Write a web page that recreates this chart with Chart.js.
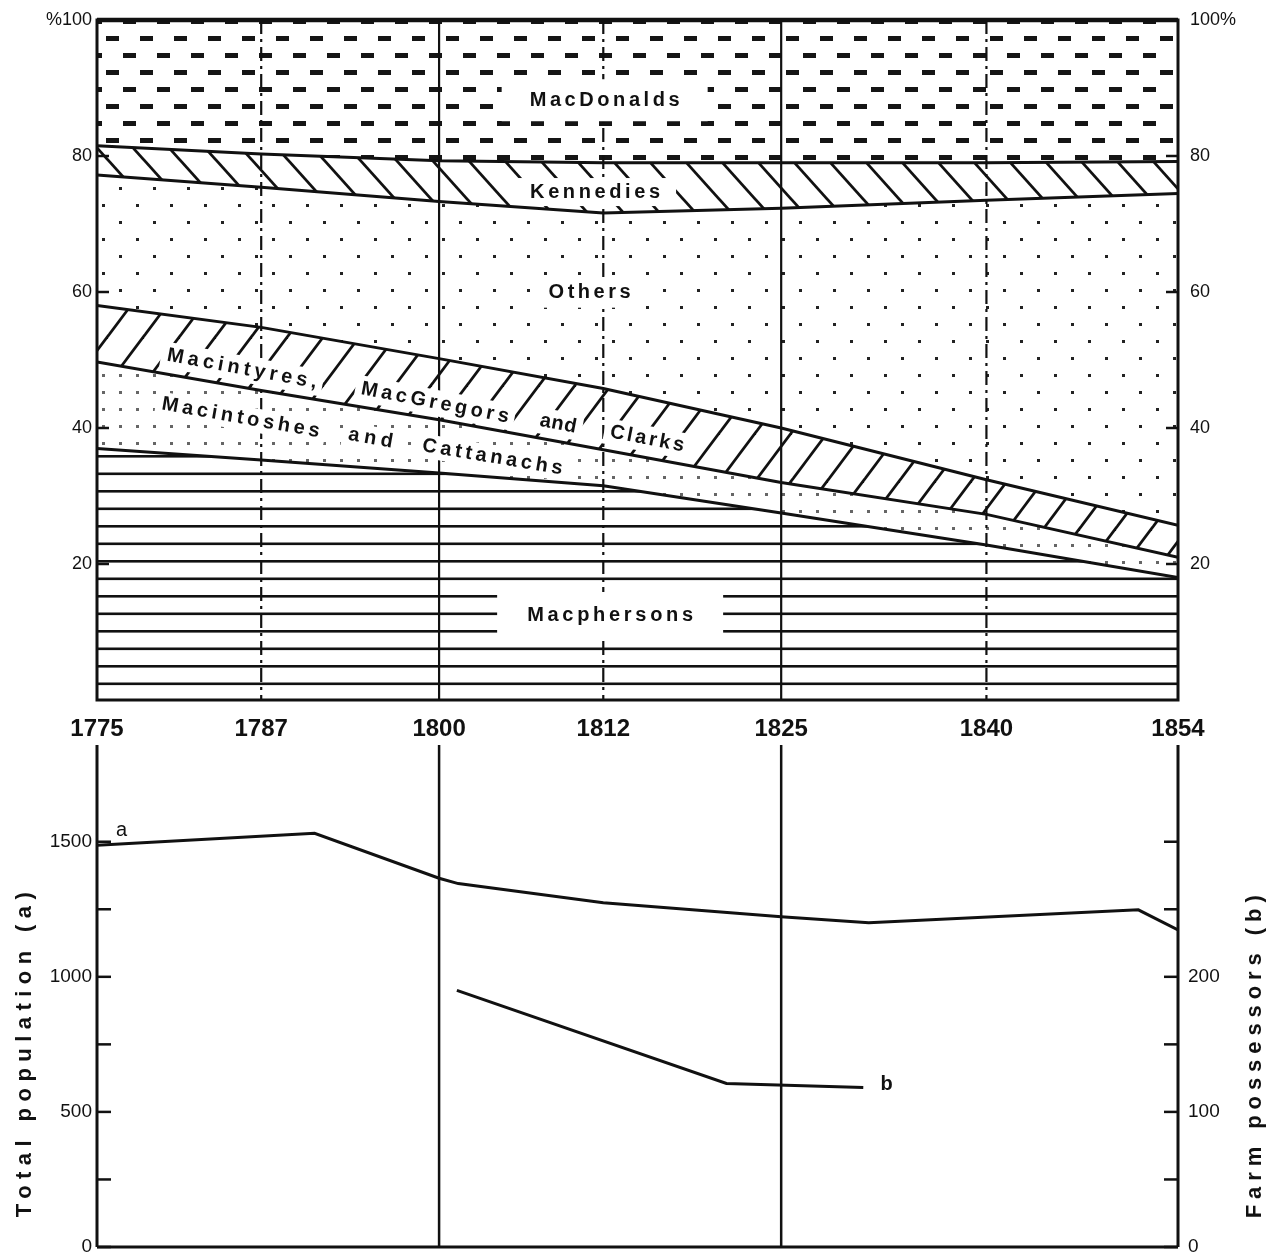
<!DOCTYPE html>
<html><head><meta charset="utf-8">
<script src="https://cdn.jsdelivr.net/npm/chart.js@4.4.1/dist/chart.umd.min.js"></script>
<style>
html,body{margin:0;padding:0;background:#fff;}
#wrap{position:relative;width:1287px;height:1254px;overflow:hidden;background:#fff;}
canvas{position:absolute;left:0;}
</style></head><body>
<div id="wrap">
<canvas id="topc" width="1287" height="745" style="top:0"></canvas>
<canvas id="botc" width="1287" height="514" style="top:740px"></canvas>
</div>
<script>
// ---------- DATA ----------
const years = [1775, 1787, 1800, 1812, 1825, 1840, 1854];
// shares (%) of each group, stacked bottom to top
const macphersons  = [37.0, 35.3, 33.4, 31.5, 27.5, 22.8, 18.0];
const macintoshesCattanachs = [12.7, 10.2, 7.8, 5.3, 4.5, 4.5, 3.0];
const macintyresMacgregorsClarks = [8.3, 9.3, 9.0, 9.0, 8.0, 5.1, 4.7];
const others     = [19.2, 20.6, 23.1, 25.8, 32.3, 41.1, 48.8];
const kennedies  = [4.3, 4.9, 6.0, 7.4, 6.7, 5.5, 4.7];
const macdonalds = [18.5, 19.7, 20.7, 21.0, 21.0, 21.0, 20.8];
const pctTicks = [20, 40, 60, 80, 100];

// total population (a), left axis
const popYears  = [1775, 1790.9, 1800, 1801.4, 1812, 1825, 1831.4, 1851.1, 1854];
const popValues = [1487, 1531, 1365, 1345, 1274, 1222, 1200, 1248, 1174];
// farm possessors (b), right axis
const farmYears  = [1801.3, 1821, 1831];
const farmValues = [190, 121, 118];
const popTicks  = [0, 250, 500, 750, 1000, 1250, 1500];
const farmTicks = [0, 50, 100, 150, 200, 250, 300];

const solidYears = [1800, 1825];
const dashYears  = [1787, 1812, 1840];

// ---------- helpers ----------
const FONT = '"Liberation Sans", Arial, sans-serif';
function tile(w, h, draw){
  const c = document.createElement('canvas'); c.width = w; c.height = h;
  const g = c.getContext('2d'); g.fillStyle = '#fff'; g.fillRect(0,0,w,h);
  draw(g, w, h); return c;
}
const topCtx = document.getElementById('topc').getContext('2d');
const pat = (c) => topCtx.createPattern(c, 'repeat');

const patDash = pat(tile(34, 34, (g,w,h)=>{ g.fillStyle='#151515';
  g.fillRect(4,2,13,5); g.fillRect(21,19,13,5); g.fillRect(21-w,19,13,5); }));
const patBack = pat(tile(36, 40, (g,w,h)=>{ g.strokeStyle='#111'; g.lineWidth=2.8;
  for (const dx of [-w,0,w]) { g.beginPath(); g.moveTo(dx-w*0.5,-h*0.5); g.lineTo(dx+w*1.5,h*1.5); g.stroke(); } }));
const patSlash = pat(tile(36, 48, (g,w,h)=>{ g.strokeStyle='#111'; g.lineWidth=2.8;
  for (const dx of [-w,0,w]) { g.beginPath(); g.moveTo(dx-w*0.5,h*1.5); g.lineTo(dx+w*1.5,-h*0.5); g.stroke(); } }));
const patDots = pat(tile(34, 34, (g)=>{ g.fillStyle='#222'; g.fillRect(0,0,3,3); g.fillRect(17,17,3,3); }));
const patDense = pat(tile(17, 17, (g)=>{ g.fillStyle='#666'; g.fillRect(0,0,3,3); }));
const patLines = pat(tile(10, 35, (g)=>{ g.fillStyle='#111'; g.fillRect(0,0,10,2.6); g.fillRect(0,17.5,10,2.6); }));

function pts(xs, ys){ return xs.map((x,i)=>({x:x, y:ys[i]})); }
function band(label, values, bg, fill){
  return { label, data: pts(years, values), backgroundColor: bg, fill,
    borderColor:'#111', borderWidth:3, pointRadius:0, tension:0 };
}

function drawText(ctx, cx, cy, text, target, angle, font, padX, padY){
  ctx.save();
  ctx.translate(cx, cy); ctx.rotate(angle*Math.PI/180);
  ctx.font = font;
  const hasLS = ('letterSpacing' in ctx);
  if (hasLS) ctx.letterSpacing = '0px';
  const w0 = ctx.measureText(text).width;
  const n = text.length;
  let sp = (hasLS && target && n>1) ? (target - w0)/(n-1) : 0;
  const W = w0 + sp*(n-1);
  const fs = parseFloat(font.match(/(\d+(\.\d+)?)px/)[1]);
  if (padX != null) {
    ctx.fillStyle = '#fff';
    ctx.fillRect(-W/2-padX, -fs*0.45-padY, W+2*padX, fs*0.9+2*padY);
  }
  if (hasLS) ctx.letterSpacing = sp + 'px';
  ctx.fillStyle = '#111'; ctx.textAlign = 'left'; ctx.textBaseline = 'middle';
  ctx.fillText(text, -W/2, 0);
  ctx.restore();
}
function seg(ctx, x1, y1, x2, y2){ ctx.beginPath(); ctx.moveTo(x1,y1); ctx.lineTo(x2,y2); ctx.stroke(); }
function insideTicks(ctx, scale, values, side, len){
  const x0 = side === 'left' ? scale.right : scale.left;
  const dir = side === 'left' ? 1 : -1;
  values.forEach(v => { const py = scale.getPixelForValue(v); seg(ctx, x0, py, x0 + dir*len, py); });
}
function fixW(w){ return s => { s.width = w; s.paddingTop = 0; s.paddingBottom = 0; }; }
function fixH(h){ return s => { s.height = h; s.paddingLeft = 0; s.paddingRight = 0; }; }

// in-chart annotations (anchored in data coordinates)
const bandLabels = [
  { text:'MacDonalds', year:1812.1, pct:88.2, w:150, a:0,    px:28, py:12 },
  { text:'Kennedies',  year:1811.4, pct:74.7, w:130, a:0,    px:16, py:5 },
  { text:'Others',     year:1811.0, pct:59.9, w:82,  a:0,    px:10, py:6 },
  { text:'Macphersons',year:1812.5, pct:12.5, w:166, a:0,    px:30, py:14 },
  { text:'Macintyres,',year:1785.6, pct:48.7, w:152, a:10.5, px:6,  py:4 },
  { text:'MacGregors', year:1799.7, pct:43.7, w:150, a:11,   px:6,  py:4 },
  { text:'and',        year:1808.7, pct:40.6, w:37,  a:11,   px:6,  py:4 },
  { text:'Clarks',     year:1815.2, pct:38.4, w:75,  a:11,   px:6,  py:4 },
  { text:'Macintoshes',year:1785.5, pct:41.5, w:160, a:10,   px:6,  py:3 },
  { text:'and',        year:1795.0, pct:38.5, w:45,  a:10,   px:6,  py:3 },
  { text:'Cattanachs', year:1803.9, pct:35.7, w:142, a:9.5,  px:6,  py:3 }
];

const topDeco = {
  id:'topDeco',
  beforeDatasetsDraw(chart){
    const {ctx, chartArea:a, scales:{x, y}} = chart;
    ctx.save();
    ctx.strokeStyle = '#111';
    ctx.lineWidth = 2.2;
    solidYears.forEach(v => { const px = x.getPixelForValue(v); seg(ctx, px, a.top, px, a.bottom); });
    ctx.setLineDash([14,5,3,5]);
    dashYears.forEach(v => { const px = x.getPixelForValue(v); seg(ctx, px, a.top, px, a.bottom); });
    ctx.setLineDash([]);
    bandLabels.forEach(l => drawText(ctx, x.getPixelForValue(l.year), y.getPixelForValue(l.pct),
      l.text, l.w, l.a, 'bold 20px ' + FONT, l.px, l.py));
    ctx.restore();
  },
  afterDatasetsDraw(chart){
    const {ctx, chartArea:a, scales:{y, y2}} = chart;
    ctx.save();
    ctx.strokeStyle = '#111';
    ctx.lineWidth = 3;
    ctx.strokeRect(a.left, a.top, a.right-a.left, a.bottom-a.top);
    ctx.lineWidth = 4.5; seg(ctx, a.left, a.top, a.right, a.top);
    ctx.lineWidth = 2.5;
    insideTicks(ctx, y, pctTicks.slice(0,4), 'left', 12);
    insideTicks(ctx, y2, pctTicks.slice(0,4), 'right', 12);
    ctx.restore();
  }
};

new Chart(topCtx, {
  type:'line',
  data:{ datasets:[
    band('Macphersons', macphersons, patLines, 'origin'),
    band('Macintoshes and Cattanachs', macintoshesCattanachs, patDense, '-1'),
    band('Macintyres, MacGregors and Clarks', macintyresMacgregorsClarks, patSlash, '-1'),
    band('Others', others, patDots, '-1'),
    band('Kennedies', kennedies, patBack, '-1'),
    band('MacDonalds', macdonalds, patDash, '-1')
  ]},
  options:{
    responsive:false, animation:false, devicePixelRatio:1,
    layout:{ padding:{ top:20, left:0, right:0, bottom:0 } },
    plugins:{ legend:{display:false}, tooltip:{enabled:false}, filler:{ drawTime:'beforeDatasetsDraw', propagate:false } },
    scales:{
      x:{ type:'linear', min:1775, max:1854,
          afterBuildTicks: s => { s.ticks = years.map(v => ({value:v})); },
          ticks:{ autoSkip:false, maxRotation:0, padding:15, color:'#111',
                  font:{ family:FONT, weight:'bold', size:24 }, callback: v => String(v) },
          grid:{ display:false, drawTicks:false }, border:{ display:false },
          afterFit: fixH(45) },
      y:{ stacked:true, min:0, max:100, position:'left',
          afterBuildTicks: s => { s.ticks = pctTicks.map(v => ({value:v})); },
          ticks:{ autoSkip:false, padding:5, color:'#111', font:{ family:FONT, size:18 },
                  callback: v => v === 100 ? '%100' : String(v) },
          grid:{ display:false, drawTicks:false }, border:{ display:false },
          afterFit: fixW(97) },
      y2:{ min:0, max:100, position:'right',
          afterBuildTicks: s => { s.ticks = pctTicks.map(v => ({value:v})); },
          ticks:{ autoSkip:false, padding:12, color:'#111', font:{ family:FONT, size:18 },
                  callback: v => v === 100 ? '100%' : String(v) },
          grid:{ display:false, drawTicks:false }, border:{ display:false },
          afterFit: fixW(109) }
    }
  },
  plugins:[topDeco]
});

// ---------- bottom chart ----------
const botDeco = {
  id:'botDeco',
  beforeDatasetsDraw(chart){
    const {ctx, chartArea:a, scales:{x}} = chart;
    ctx.save(); ctx.strokeStyle = '#111'; ctx.lineWidth = 2.5;
    solidYears.forEach(v => { const px = x.getPixelForValue(v); seg(ctx, px, a.top, px, a.bottom); });
    ctx.restore();
  },
  afterDatasetsDraw(chart){
    const {ctx, chartArea:a, scales:{x, y, y2}} = chart;
    ctx.save(); ctx.strokeStyle = '#111'; ctx.lineWidth = 3;
    seg(ctx, a.left, a.top, a.left, a.bottom);
    seg(ctx, a.right, a.top, a.right, a.bottom);
    seg(ctx, a.left, a.bottom, a.right, a.bottom);
    ctx.lineWidth = 2.5;
    insideTicks(ctx, y, popTicks, 'left', 14);
    insideTicks(ctx, y2, farmTicks, 'right', 14);
    ctx.fillStyle = '#111'; ctx.font = '20px ' + FONT; ctx.textAlign = 'center'; ctx.textBaseline = 'middle';
    ctx.fillText('a', x.getPixelForValue(1776.8), y.getPixelForValue(1541));
    ctx.font = 'bold 20px ' + FONT;
    ctx.fillText('b', x.getPixelForValue(1832.7), y2.getPixelForValue(120));
    drawText(ctx, 25, y.getPixelForValue(712), 'Total population (a)', 325, -90, 'bold 22px ' + FONT);
    drawText(ctx, 1255, y.getPixelForValue(704), 'Farm possessors (b)', 323, -90, 'bold 22px ' + FONT);
    ctx.restore();
  }
};

new Chart(document.getElementById('botc').getContext('2d'), {
  type:'line',
  data:{ datasets:[
    { label:'Total population (a)', data: pts(popYears, popValues), yAxisID:'y',
      borderColor:'#111', borderWidth:3, pointRadius:0, tension:0, fill:false },
    { label:'Farm possessors (b)', data: pts(farmYears, farmValues), yAxisID:'y2',
      borderColor:'#111', borderWidth:3, pointRadius:0, tension:0, fill:false }
  ]},
  options:{
    responsive:false, animation:false, devicePixelRatio:1,
    layout:{ padding:{ top:5, left:0, right:0, bottom:0 } },
    plugins:{ legend:{display:false}, tooltip:{enabled:false} },
    scales:{
      x:{ type:'linear', min:1775, max:1854, ticks:{ display:false },
          grid:{ display:false, drawTicks:false }, border:{ display:false },
          afterFit: fixH(7) },
      y:{ min:0, max:1858, position:'left',
          afterBuildTicks: s => { s.ticks = popTicks.map(v => ({value:v})); },
          ticks:{ autoSkip:false, padding:5, color:'#111', font:{ family:FONT, size:19 },
                  callback: v => v % 500 === 0 ? String(v) : '' },
          grid:{ display:false, drawTicks:false }, border:{ display:false },
          afterFit: fixW(97) },
      y2:{ min:0, max:371.6, position:'right',
          afterBuildTicks: s => { s.ticks = farmTicks.map(v => ({value:v})); },
          ticks:{ autoSkip:false, padding:10, color:'#111', font:{ family:FONT, size:19 },
                  callback: v => v % 100 === 0 && v <= 200 ? String(v) : '' },
          grid:{ display:false, drawTicks:false }, border:{ display:false },
          afterFit: fixW(109) }
    }
  },
  plugins:[botDeco]
});
</script>
</body></html>
